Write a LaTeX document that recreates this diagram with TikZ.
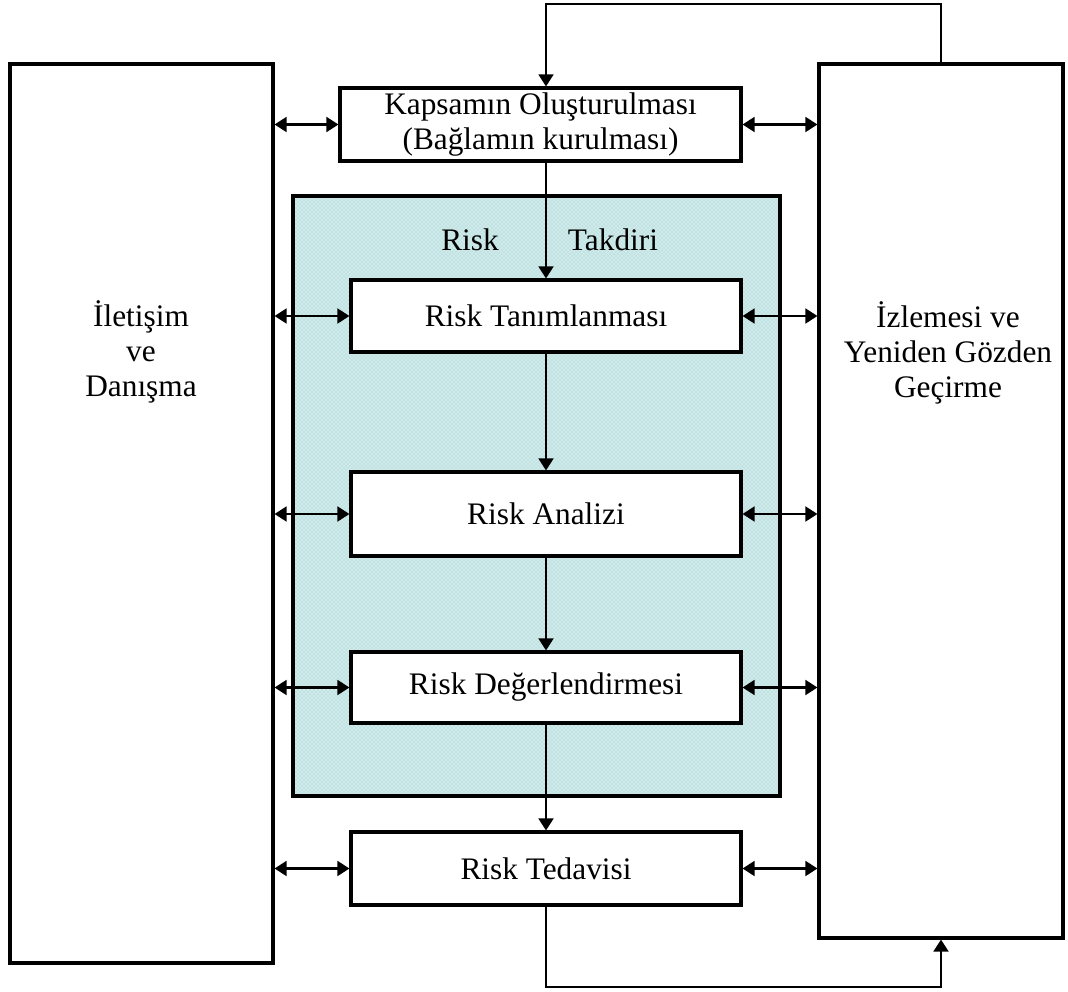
\documentclass[tikz,border=0pt]{standalone}
\usepackage{fontspec}
\setmainfont{Liberation Serif}
\usetikzlibrary{arrows.meta,patterns}
\definecolor{tealfill}{RGB}{208,234,234}
\definecolor{tealdot}{RGB}{140,200,200}
\tikzset{
  box/.style={draw=black, line width=2.3pt, fill=white, inner sep=0pt, align=center,
    font=\fontsize{23.5}{26.5}\selectfont},
  conn/.style={line width=2pt, -{Triangle[length=9pt,width=11pt]}},
  dconn/.style={line width=2pt, {Triangle[length=9pt,width=11pt]}-{Triangle[length=9pt,width=11pt]}},
  lbl/.style={font=\fontsize{23.5}{26.5}\selectfont, align=center, inner sep=0pt},
}
\begin{document}
\begin{tikzpicture}[x=0.75pt, y=-0.75pt]
\useasboundingbox (0,0) rectangle (1068,992);
% side boxes
\node[box, minimum width=197.25pt, minimum height=674.25pt] (L) at (141.5,513.5) {};
\node[box, minimum width=183pt, minimum height=655.5pt] (R) at (941,501) {};
\node[lbl] (Lt) at (141,352) {İletişim\\ve\\Danışma};
\node[lbl] (Rt) at (948,353) {İzlemesi ve\\Yeniden Gözden\\Geçirme};
% risk assessment area
\node[draw=black, line width=2.3pt, minimum width=365.25pt, minimum height=450pt,
  preaction={fill=tealfill}, pattern=crosshatch dots, pattern color=tealdot] (P) at (536.5,496) {};
\node[lbl] (rk) at (470,240) {Risk};
\node[lbl] (tk) at (613,240) {Takdiri};
% process boxes
\node[box, minimum width=300.75pt, minimum height=54.75pt] (K) at (540.5,124.5) {Kapsamın Oluşturulması\\(Bağlamın kurulması)};
\node[box, minimum width=292.5pt, minimum height=54pt] (T) at (546,316) {Risk Tanımlanması};
\node[box, minimum width=292.5pt, minimum height=63pt] (A) at (546,514) {Risk Analizi};
\node[box, minimum width=292.5pt, minimum height=53.25pt] (D) at (546,687.5) {Risk Değerlendirmesi};
\node[box, minimum width=292.5pt, minimum height=54.75pt] (E) at (546,868.5) {Risk Tedavisi};
% vertical flow
\draw[conn] (K.south -| T.north) -- (T.north);
\draw[conn] (T.south) -- (A.north);
\draw[conn] (A.south) -- (D.north);
\draw[conn] (D.south) -- (E.north);
% horizontal double arrows
\foreach \n in {K,T,A,D,E}{
  \draw[dconn] (L.east |- \n.west) -- (\n.west);
  \draw[dconn] (\n.east) -- (R.west |- \n.east);
}
% loops
\coordinate (topc) at (546,4);
\coordinate (botc) at (546,987);
\draw[conn, line width=1.8pt] (R.north) |- (topc) -- (K.north -| T.north);
\draw[conn] (E.south) -- (botc) -| (R.south);
\end{tikzpicture}
\end{document}
